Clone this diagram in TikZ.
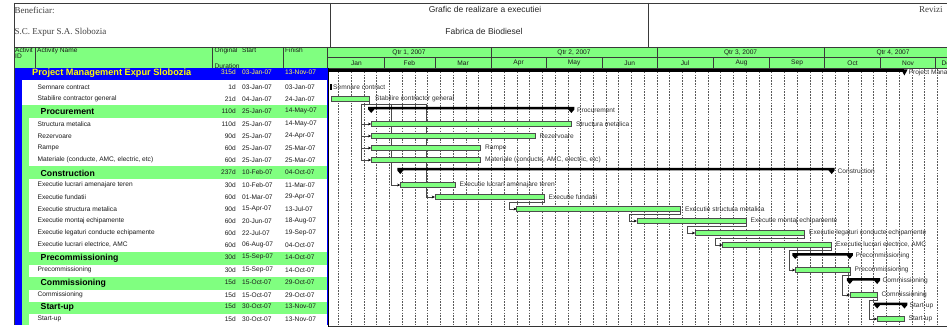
\documentclass[tikz,border=0pt]{standalone}
\usepackage{fontspec}
\setmainfont{Liberation Serif}
\newfontfamily\arialf{Liberation Sans}
\usetikzlibrary{arrows.meta}
\definecolor{lgreen}{HTML}{80FF80}
\definecolor{pblue}{HTML}{0000FF}
\definecolor{pyel}{HTML}{FFFF00}
\definecolor{txt}{HTML}{1A1A1A}
\definecolor{gtxt}{HTML}{303030}
\definecolor{lnk}{HTML}{4A4A4A}
\definecolor{frm}{HTML}{3A3A3A}
\newcommand\smallf{\arialf\fontsize{6.6}{7}\selectfont}
\newcommand\sumbarshape[3]{\fill (#1-3,#3-5) -- (#2+3,#3-5) -- (#2+3,#3-2.5) -- (#2,#3+1) -- (#2-3,#3-2.5) -- (#1+3,#3-2.5) -- (#1,#3+1) -- (#1-3,#3-2.5) -- cycle;}
\newcommand\taskrow[6]{%
  \node[tl] (nm#1) at (37.5,#2) {#3};
  \node[tr] (du#1) at (236,#2) {#4};
  \node[tl] (sd#1) at (242,#2) {#5};
  \node[tl] (fd#1) at (285,#2) {#6};}
\newcommand\sumrow[6]{%
  \node[sname] (nm#1) at (40.5,#2) {#3};
  \node[tr] (du#1) at (236,#2-1) {#4};
  \node[tl] (sd#1) at (242,#2-1) {#5};
  \node[tl] (fd#1) at (285,#2-1) {#6};}
\begin{document}
\begin{tikzpicture}[x=1pt,y=-1pt,
  tl/.style={anchor=west,inner sep=0pt,text=txt,font=\smallf},
  tr/.style={anchor=east,inner sep=0pt,text=txt,font=\smallf},
  hd/.style={inner sep=0pt,text=txt,font=\smallf},
  sname/.style={anchor=west,inner sep=0pt,text=black,font=\arialf\bfseries\fontsize{8.7}{9}\selectfont},
  gl/.style={anchor=west,inner sep=0pt,text=gtxt,font=\smallf},
  bar/.style={anchor=west,draw=black!70,fill=lgreen,line width=0.6pt,minimum height=5.3pt,inner sep=0pt,outer sep=0pt},
  link/.style={draw=lnk,line width=0.5pt,-{Stealth[length=3.2pt,width=2.8pt,color=black]}},
  linkline/.style={draw=lnk,line width=0.5pt},
  grid/.style={draw=black!65,dash pattern=on 1.6pt off 1.2pt,line width=0.45pt},
  frame/.style={draw=frm,line width=0.7pt},
  serif/.style={inner sep=0pt,text=black!75,font=\fontsize{9}{10}\selectfont}]
\clip (0,0) rectangle (947,331);
\fill[white] (0,0) rectangle (947,331);

% ---------- top header ----------
\node[serif,anchor=west] (benef) at (14.5,10) {Beneficiar:};
\node[serif,anchor=west] (client) at (14.5,32) {S.C. Expur S.A. Slobozia};
\node[inner sep=0pt,text=black!85,font=\arialf\fontsize{8.5}{9}\selectfont] (title1) at (485,9.5) {Grafic de realizare a executiei};
\node[inner sep=0pt,text=black!85,font=\arialf\fontsize{8.5}{9}\selectfont] (title2) at (484,31) {Fabrica de Biodiesel};
\node[serif,anchor=west] (rev) at (919,10) {Revizi};

% ---------- table header ----------
\fill[lgreen] (14,47) rectangle (328,68);
\fill[lgreen] (328,47) rectangle (947,68);
\node[hd,anchor=west] (hid1) at (15,50.5) {Activit};
\node[hd,anchor=west] (hid2) at (15,56.5) {ID};
\node[hd,anchor=west] (hname) at (37,50.5) {Activity Name};
\node[hd,anchor=west] (hdur1) at (214.5,50.5) {Original};
\node[hd,anchor=west] (hdur2) at (214.5,66) {Duration};
\node[hd,anchor=west] (hstart) at (242,50.5) {Start};
\node[hd,anchor=west] (hfin) at (285,50.5) {Finish};

% ---------- table body fills ----------
\fill[pblue] (14,68) rectangle (328,80);
\fill[pblue] (14,80) rectangle (21.5,325);
\fill[lgreen] (21.5,105.5) rectangle (29,325);
\fill[lgreen] (21.5,105.5) rectangle (328,118.5);
\fill[lgreen] (21.5,166.5) rectangle (328,179.5);
\fill[lgreen] (21.5,252) rectangle (328,264.5);
\fill[lgreen] (21.5,277) rectangle (328,289.5);
\fill[lgreen] (21.5,301.5) rectangle (328,314);

% ---------- table text ----------
\node[anchor=west,inner sep=0pt,text=pyel,font=\arialf\bfseries\fontsize{9.2}{10}\selectfont] (nmPM) at (32,73.5) {Project Management Expur Slobozia};
\node[tr,text=pyel!70!white] (duPM) at (236,72.5) {315d};
\node[tl,text=pyel!70!white] (sdPM) at (242,72.5) {03-Jan-07};
\node[tl,text=pyel!70!white] (fdPM) at (285,72.5) {13-Nov-07};
\taskrow{A}{87}{Semnare contract}{1d}{03-Jan-07}{03-Jan-07}
\taskrow{B}{99}{Stabilire contractor general}{21d}{04-Jan-07}{24-Jan-07}
\sumrow{P}{112}{Procurement}{110d}{25-Jan-07}{14-May-07}
\taskrow{C}{124}{Structura metalica}{110d}{25-Jan-07}{14-May-07}
\taskrow{D}{136}{Rezervoare}{90d}{25-Jan-07}{24-Apr-07}
\taskrow{E}{148}{Rampe}{60d}{25-Jan-07}{25-Mar-07}
\taskrow{F}{160}{Materiale (conducte, AMC, electric, etc)}{60d}{25-Jan-07}{25-Mar-07}
\sumrow{Q}{173}{Construction}{237d}{10-Feb-07}{04-Oct-07}
\taskrow{G}{185}{Executie lucrari amenajare teren}{30d}{10-Feb-07}{11-Mar-07}
\taskrow{H}{197}{Executie fundatii}{60d}{01-Mar-07}{29-Apr-07}
\taskrow{I}{209}{Executie structura metalica}{90d}{15-Apr-07}{13-Jul-07}
\taskrow{J}{221}{Executie montaj echipamente}{60d}{20-Jun-07}{18-Aug-07}
\taskrow{K}{233}{Executie legaturi conducte echipamente}{60d}{22-Jul-07}{19-Sep-07}
\taskrow{L}{245}{Executie lucrari electrice, AMC}{60d}{06-Aug-07}{04-Oct-07}
\sumrow{R}{258}{Precommissioning}{30d}{15-Sep-07}{14-Oct-07}
\taskrow{M}{270}{Precommissioning}{30d}{15-Sep-07}{14-Oct-07}
\sumrow{S}{283}{Commissioning}{15d}{15-Oct-07}{29-Oct-07}
\taskrow{N}{295}{Commissioning}{15d}{15-Oct-07}{29-Oct-07}
\sumrow{T}{307.5}{Start-up}{15d}{30-Oct-07}{13-Nov-07}
\taskrow{O}{319}{Start-up}{15d}{30-Oct-07}{13-Nov-07}

% ---------- gantt header ----------
\node[hd] (q1) at (409,52.5) {Qtr 1, 2007};
\node[hd] (q2) at (574,52.5) {Qtr 2, 2007};
\node[hd] (q3) at (740.6,52.5) {Qtr 3, 2007};
\node[hd] (q4) at (893,52.5) {Qtr 4, 2007};
\node[hd] (mJan) at (356.5,63) {Jan};
\node[hd] (mFeb) at (409.4,63) {Feb};
\node[hd] (mMar) at (463.1,63) {Mar};
\node[hd] (mApr) at (518.6,63) {Apr};
\node[hd] (mMay) at (574.1,63) {May};
\node[hd] (mJun) at (629.6,63) {Jun};
\node[hd] (mJul) at (685.1,63) {Jul};
\node[hd] (mAug) at (741.6,63) {Aug};
\node[hd] (mSep) at (797.1,63) {Sep};
\node[hd] (mOct) at (852.6,63) {Oct};
\node[hd] (mNov) at (908.1,63) {Nov};
\node[hd,anchor=west] (mDec) at (941.5,63) {Dec};

% ---------- weekly grid ----------
\foreach \k in {0,...,47} {
  \draw[grid] ({327.5+1.82*(6+7*\k)},69) -- ({327.5+1.82*(6+7*\k)},325);
}

% ---------- bars (nodes) ----------
\node[anchor=west,fill=black,minimum width=2pt,minimum height=6pt,inner sep=0pt] (bA) at (329.5,87) {};
\node[bar,minimum width=38.2pt] (bB) at (331.5,98.7) {};
\node[bar,minimum width=200.2pt] (bC) at (371.18,124) {};
\node[bar,minimum width=163.8pt] (bD) at (371.18,136) {};
\node[bar,minimum width=109.2pt] (bE) at (371.18,148) {};
\node[bar,minimum width=109.2pt] (bF) at (371.18,160) {};
\node[bar,minimum width=54.6pt] (bG) at (400.3,185) {};
\node[bar,minimum width=109.2pt] (bH) at (434.88,197) {};
\node[bar,minimum width=163.8pt] (bI) at (516.78,209) {};
\node[bar,minimum width=109.2pt] (bJ) at (636.9,221) {};
\node[bar,minimum width=109.2pt] (bK) at (695.14,233) {};
\node[bar,minimum width=109.2pt] (bL) at (722.44,245) {};
\node[bar,minimum width=54.6pt] (bM) at (795.24,270) {};
\node[bar,minimum width=27.3pt] (bN) at (849.84,295) {};
\node[bar,minimum width=27.3pt] (bO) at (877.14,319) {};

% ---------- links ----------
\coordinate (jA) at (426,104);
\coordinate (jB) at (391.5,104);
\coordinate (jC) at (361.5,104);
\draw[linkline] (bB.south east) |- (jC);
\draw[linkline] (jC) -- (jA);
\draw[link] (jC) |- (bC.west);
\draw[link] (jC) |- (bD.west);
\draw[link] (jC) |- (bE.west);
\draw[link] (jC) |- (bF.west);
\draw[link] (jB) |- (bG.west);
\draw[link] (jA) |- (bH.west);
\draw[link] (bH.south east) -- ++(0,2.5) -| ([xshift=-8pt]bI.west) -- (bI.west);
\draw[link] (bI.south east) -- ++(0,2.5) -| ([xshift=-7.5pt]bJ.west) -- (bJ.west);
\draw[link] (bJ.south east) -- ++(0,2.5) -| ([xshift=-7.5pt]bK.west) -- (bK.west);
\draw[link] (bK.south east) -- ++(0,2.5) -| ([xshift=-7.5pt]bL.west) -- (bL.west);
\draw[link] (bL.south east) -- ++(0,2.5) -| ([xshift=-6.5pt]bM.west) -- (bM.west);
\draw[link] (bM.south east) -- ++(0,2.5) -| ([xshift=-7.5pt]bN.west) -- (bN.west);
\draw[link] (bN.south east) -- ++(0,2.5) -| ([xshift=-7.8pt]bO.west) -- (bO.west);
% redraw bars on top of links
\foreach \b in {bB,bC,bD,bE,bF,bG,bH,bI,bJ,bK,bL,bM,bN,bO} {
  \draw[draw=black!70,fill=lgreen,line width=0.6pt] (\b.south west) rectangle (\b.north east);
}

% ---------- summary bars ----------
\fill (329,69.5) rectangle (904.44,72.5);
\fill (901.2,69.5) -- (907.6,69.5) -- (904.4,75.5) -- cycle;
\sumbarshape{371.18}{571.38}{112}
\sumbarshape{400.3}{831.64}{173}
\sumbarshape{795.24}{849.84}{258}
\sumbarshape{849.84}{877.14}{283}
\sumbarshape{877.14}{904.44}{307.5}

% ---------- gantt labels ----------
\node[gl] (lPM) at (908.5,72.5) {Project Management Expur Slobozia};
\node[gl] (lA) at (333,87) {Semnare contract};
\node[gl] (lB) at (375,99) {Stabilire contractor general};
\node[gl] (lP) at (577,110.5) {Procurement};
\node[gl] (lC) at (576,124) {Structura metalica};
\node[gl] (lD) at (539.5,136) {Rezervoare};
\node[gl] (lE) at (485,148) {Rampe};
\node[gl] (lF) at (485,160) {Materiale (conducte, AMC, electric, etc)};
\node[gl] (lQ) at (837.5,171.5) {Construction};
\node[gl] (lG) at (459.5,185) {Executie lucrari amenajare teren};
\node[gl] (lH) at (548.5,197) {Executie fundatii};
\node[gl] (lI) at (685,209) {Executie structura metalica};
\node[gl] (lJ) at (750.5,221) {Executie montaj echipamente};
\node[gl] (lK) at (809,233) {Executie legaturi conducte echipamente};
\node[gl] (lL) at (836,245) {Executie lucrari electrice, AMC};
\node[gl] (lR) at (855.5,256) {Precommissioning};
\node[gl] (lM) at (854.5,270) {Precommissioning};
\node[gl] (lS) at (882.5,281) {Commissioning};
\node[gl] (lN) at (881.5,295) {Commissioning};
\node[gl] (lT) at (909.5,305.5) {Start-up};
\node[gl] (lO) at (908.5,319) {Start-up};

% ---------- frame lines ----------
\draw[frame] (14,3) -- (947,3);
\draw[frame] (14,47) -- (947,47);
\draw[frame] (14,3) -- (14,325);
\draw[frame] (330,3) -- (330,47);
\draw[frame] (648,3) -- (648,47);
\draw[frame] (35,47) -- (35,68);
\draw[frame] (212,47) -- (212,68);
\draw[frame] (283,47) -- (283,68);
\draw[frame] (327.5,47) -- (327.5,68);
\draw[frame] (328,57.5) -- (947,57.5);
\draw[frame] (328,68) -- (947,68);
\foreach \q in {491.3,656.9,824.4} { \draw[frame] (\q,47) -- (\q,68); }
\foreach \m in {383.9,434.9,545.9,602.3,713.3,769.8,880.8,935.4} { \draw[frame] (\m,57.5) -- (\m,68); }
\draw[pblue,line width=1pt] (327,68) -- (327,325);
\draw[black,line width=1.2pt] (328.8,68) -- (328.8,326.5);
\draw[black!80,line width=0.9pt] (328.5,326.5) -- (947,326.5);
\end{tikzpicture}
\end{document}
